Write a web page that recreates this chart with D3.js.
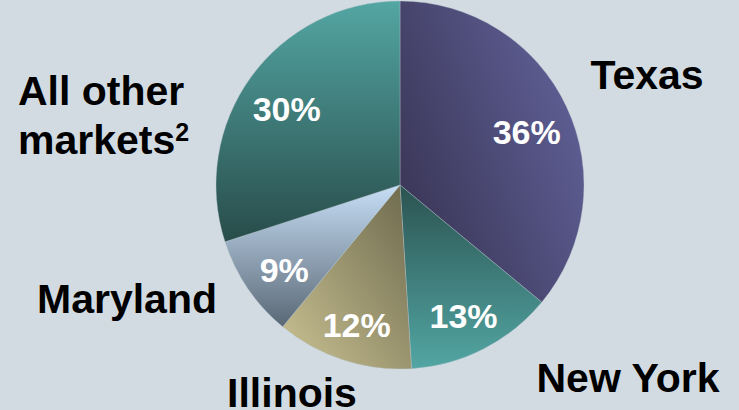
<!DOCTYPE html>
<html>
<head>
<meta charset="utf-8">
<script src="https://cdn.jsdelivr.net/npm/d3@7"></script>
<style>
  html, body { margin: 0; padding: 0; background: #d3dbe2; }
  svg { display: block; }
  text { font-family: "Liberation Sans", Arial, sans-serif; font-weight: bold; }
</style>
</head>
<body>
<svg id="chart" width="739" height="410"></svg>
<script>
// ---- data ----
const categories = ["Texas", "New York", "Illinois", "Maryland", "All other markets"];
const shares = [36, 13, 12, 9, 30];
const percentLabels = ["36%", "13%", "12%", "9%", "30%"];

// ---- layout / style ----
const W = 739, H = 410;
const cx = 400, cy = 185, R = 184;
const gradients = [
  { x1: 0, y1: 0.8, x2: 1, y2: 0.2, c1: "#383453", c2: "#61629a" },   // Texas
  { x1: 0, y1: 0, x2: 0, y2: 1, c1: "#2b5351", c2: "#52a6a3" },       // New York
  { x1: 1, y1: 0, x2: 0, y2: 1, c1: "#6c684c", c2: "#cbc394" },       // Illinois
  { x1: 0, y1: 0, x2: 0, y2: 1, c1: "#c6def6", c2: "#5a6875" },       // Maryland
  { x1: 0, y1: 0, x2: 0, y2: 1, c1: "#53a6a3", c2: "#284c4a" }        // All other
];
// outer category label placements (absolute px)
const catLabelPos = [
  { x: 647, y: 89, anchor: "middle" },
  { x: 628, y: 392, anchor: "middle" },
  { x: 292, y: 407, anchor: "middle" },
  { x: 127, y: 313, anchor: "middle" }
];

const svg = d3.select("#chart");
svg.append("rect").attr("width", W).attr("height", H).attr("fill", "#d3dbe2");

const defs = svg.append("defs");
gradients.forEach((g, i) => {
  const lg = defs.append("linearGradient").attr("id", "grad" + i)
    .attr("x1", g.x1).attr("y1", g.y1).attr("x2", g.x2).attr("y2", g.y2);
  lg.append("stop").attr("offset", "0%").attr("stop-color", g.c1);
  lg.append("stop").attr("offset", "100%").attr("stop-color", g.c2);
});

const pie = d3.pie().sort(null).value(d => d.value);
const data = pie(categories.map((c, i) => ({ name: c, value: shares[i], label: percentLabels[i], idx: i })));

const arc = d3.arc().innerRadius(0).outerRadius(R);
const labelArc = d3.arc().innerRadius(140).outerRadius(140);

const g = svg.append("g").attr("transform", `translate(${cx},${cy})`);

g.selectAll("path.slice").data(data).enter().append("path")
  .attr("class", "slice")
  .attr("d", arc)
  .attr("fill", d => `url(#grad${d.data.idx})`)
  .attr("stroke", "#b8c8d0")
  .attr("stroke-opacity", 0.6)
  .attr("stroke-width", 0.6);

g.selectAll("text.pct").data(data).enter().append("text")
  .attr("class", "pct")
  .attr("transform", d => `translate(${labelArc.centroid(d)})`)
  .attr("dy", "0.55em")
  .attr("text-anchor", "middle")
  .attr("fill", "#ffffff")
  .attr("font-size", 34)
  .text(d => d.data.label);

// category labels
catLabelPos.forEach((p, i) => {
  svg.append("text")
    .attr("x", p.x).attr("y", p.y)
    .attr("text-anchor", p.anchor)
    .attr("font-size", 41)
    .attr("fill", "#000")
    .text(categories[i]);
});

// "All other markets²" two-line label
const other = svg.append("text").attr("font-size", 41).attr("fill", "#000");
other.append("tspan").attr("x", 18).attr("y", 105).text("All other");
other.append("tspan").attr("x", 18).attr("y", 154).text("markets");
other.append("tspan").attr("dy", -13).attr("font-size", 25).text("2");
</script>
</body>
</html>
